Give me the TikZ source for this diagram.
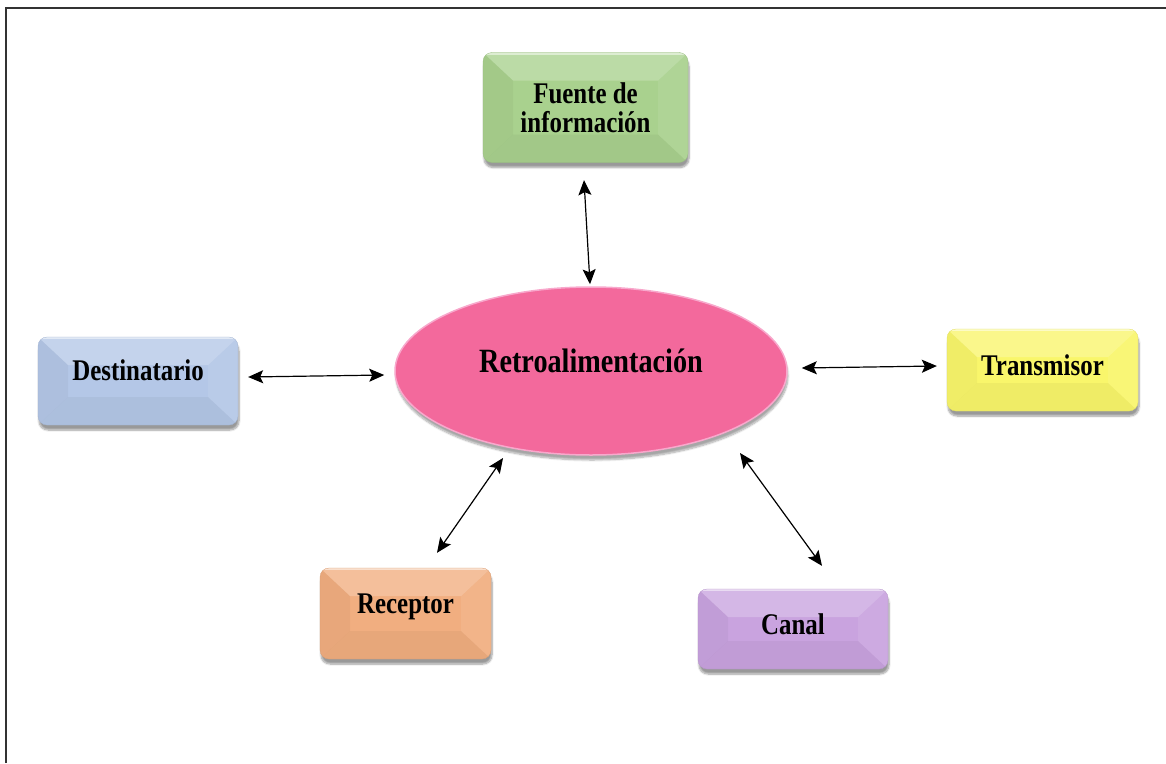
\documentclass[tikz,border=0pt]{standalone}
\usepackage{fontspec}
\setmainfont{Liberation Serif}
\newfontfamily\condserif[FakeStretch=0.83]{Liberation Serif}
\usetikzlibrary{arrows.meta,shapes.geometric,shadows.blur}
\definecolor{cgreen}{HTML}{A9D18E}
\definecolor{cblue}{HTML}{B4C7E7}
\definecolor{cyellow}{HTML}{F9F66B}
\definecolor{corange}{HTML}{F1AE80}
\definecolor{cpurple}{HTML}{C9A3DF}
\definecolor{cpink}{HTML}{F3699C}
\definecolor{cpinkrim}{HTML}{F8A8CC}
\definecolor{cframe}{HTML}{333333}
\tikzset{
  bevel/.style={path picture={
    \coordinate (pA) at (path picture bounding box.north west);
    \coordinate (pB) at (path picture bounding box.north east);
    \coordinate (pC) at (path picture bounding box.south east);
    \coordinate (pD) at (path picture bounding box.south west);
    \coordinate (qA) at ([shift={(30pt,-28pt)}]pA);
    \coordinate (qB) at ([shift={(-30pt,-28pt)}]pB);
    \coordinate (qC) at ([shift={(-30pt,28pt)}]pC);
    \coordinate (qD) at ([shift={(30pt,28pt)}]pD);
    \fill[white,opacity=.22,sharp corners] (pA)--(pB)--(qB)--(qA)--cycle;
    \fill[black,opacity=.035,sharp corners] (pA)--(qA)--(qD)--(pD)--cycle;
    \fill[white,opacity=.08,sharp corners] (pB)--(pC)--(qC)--(qB)--cycle;
    \fill[black,opacity=.04,sharp corners] (pD)--(qD)--(qC)--(pC)--cycle;
    \draw[white,opacity=.5,line width=2pt] ([yshift=-1pt]pA) -- ([yshift=-1pt]pB);
  }},
  box/.style={rectangle, rounded corners=9pt, fill=#1, draw=#1!90!black,
    line width=0.3pt, inner sep=0pt, align=center,
    blur shadow={shadow xshift=1pt, shadow yshift=-5pt, shadow opacity=40, shadow blur steps=8},
    font=\condserif\bfseries\fontsize{30}{29}\selectfont, bevel},
  oval/.style={ellipse, fill=cpink, draw=cpinkrim, line width=1.5pt, inner sep=0pt,
    blur shadow={shadow xshift=1pt, shadow yshift=-5pt, shadow opacity=35, shadow blur steps=8},
    font=\condserif\bfseries\fontsize{34}{36}\selectfont},
  arr/.style={line width=1.2pt, black,
    {Stealth[length=15pt,width=13pt,inset=3pt]}-{Stealth[length=15pt,width=13pt,inset=3pt]}},
  frame/.style={line width=2pt, cframe}
}
\begin{document}
\begin{tikzpicture}[x=1pt,y=-1pt]
\useasboundingbox (0,0) rectangle (1166,763);
\draw[frame] (6,763) -- (6,8) -- (1166,8);

\node[oval, minimum width=392pt, minimum height=168pt, text height=12pt, text depth=10pt] (retro) at (591,371) {Retroalimentación};

\node[box=cgreen, minimum width=205pt, minimum height=110pt] (fuente) at (585.5,107.5) {Fuente de\\información};
\node[box=cblue, minimum width=200pt, minimum height=88pt, text height=8pt, text depth=10pt] (dest) at (138,381) {Destinatario};
\node[box=cyellow, minimum width=191pt, minimum height=82pt, text height=20pt, text depth=10pt] (trans) at (1042.5,370) {Transmisor};
\node[box=corange, minimum width=171pt, minimum height=91pt, text height=10pt, text depth=10pt] (rec) at (405.5,613.5) {Receptor};
\node[box=cpurple, minimum width=190pt, minimum height=80pt, text height=20pt, text depth=10pt] (canal) at (793,629) {Canal};

\draw[arr] ([xshift=-1.5pt,yshift=-17.5pt]fuente.south) -- ([xshift=-1pt,yshift=2pt]retro.north);
\draw[arr] ([xshift=10pt,yshift=4pt]dest.east) -- ([xshift=-10pt,yshift=-4pt]retro.west);
\draw[arr] ([xshift=14pt,yshift=3pt]retro.east) -- ([xshift=-10pt,yshift=4pt]trans.west);
\draw[arr] ([xshift=31.5pt,yshift=15pt]rec.north) -- ([xshift=-88pt,yshift=-87pt]retro.center);
\draw[arr] ([xshift=29pt,yshift=23pt]canal.north) -- ([xshift=149pt,yshift=-82pt]retro.center);
\end{tikzpicture}
\end{document}
